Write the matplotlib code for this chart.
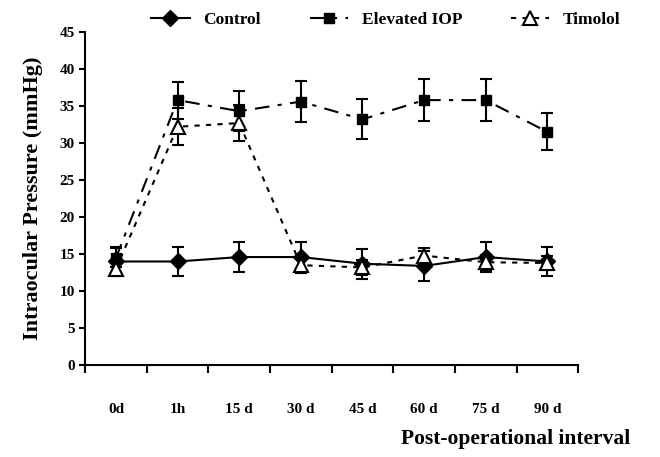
import matplotlib
matplotlib.use("Agg")
import matplotlib.pyplot as plt
from matplotlib.lines import Line2D
import numpy as np

plt.rcParams['font.family'] = ['Liberation Serif', 'DejaVu Serif']
plt.rcParams['font.weight'] = 'bold'

# ── Data ────────────────────────────────────────────
intervals = ["0d", "1h", "15 d", "30 d", "45 d", "60 d", "75 d", "90 d"]

control     = [14.0, 14.0, 14.6, 14.6, 13.7, 13.4, 14.6, 14.0]
control_err = [2.0, 2.0, 2.0, 2.0, 2.0, 2.0, 2.0, 2.0]

elevated     = [14.5, 35.8, 34.3, 35.6, 33.2, 35.8, 35.8, 31.5]
elevated_err = [1.3, 2.5, 2.7, 2.8, 2.7, 2.8, 2.8, 2.5]

timolol     = [13.0, 32.2, 32.7, 13.5, 13.2, 14.8, 13.9, 13.8]
timolol_err = [1.0, 2.5, 2.4, 1.0, 1.0, 1.0, 1.0, 1.0]

fig = plt.figure(figsize=(6.6, 4.57), dpi=100)
ax = fig.add_axes([0.129, 0.201, 0.747, 0.729])

x = np.arange(len(intervals))
ebkw = dict(ecolor="black", elinewidth=1.5, capsize=4, capthick=1.5)

styles = {
    "Control":      dict(linestyle="-", marker="D", markersize=8, mfc="black", mec="black"),
    "Elevated IOP": dict(linestyle=(0, (7, 4, 2, 4)), marker="s", markersize=7,
                         mfc="black", mec="black"),
    "Timolol":      dict(linestyle=(0, (2.5, 3)), marker="^", markersize=10,
                         mfc="white", mec="black", mew=1.5),
}

ax.errorbar(x, control, yerr=control_err, color="black", lw=1.5,
            zorder=3, **styles["Control"], **ebkw)
ax.errorbar(x, elevated, yerr=elevated_err, color="black", lw=1.5,
            zorder=4, **styles["Elevated IOP"], **ebkw)
ax.errorbar(x, timolol, yerr=timolol_err, color="black", lw=1.5,
            zorder=5, **styles["Timolol"], **ebkw)

ax.set_xlim(-0.5, len(intervals) - 0.5)
ax.set_ylim(0, 45)
ax.set_yticks(range(0, 46, 5))
ax.tick_params(axis="y", labelsize=11, length=4, width=1.5, direction="out")

ax.set_xticks(np.arange(-0.5, len(intervals), 1.0))
ax.set_xticklabels([])
ax.tick_params(axis="x", which="major", length=6, width=1.5, direction="out")
ax.set_xticks(x, minor=True)
ax.set_xticklabels(intervals, minor=True, fontsize=11, fontweight="bold")
ax.tick_params(axis="x", which="minor", length=0, pad=27)

for s in ["top", "right"]:
    ax.spines[s].set_visible(False)
for s in ["left", "bottom"]:
    ax.spines[s].set_linewidth(1.5)

ax.set_ylabel("Intraocular Pressure (mmHg)", fontsize=16, fontweight="bold", labelpad=12)
fig.text(0.782, 0.04, "Post-operational interval", fontsize=15.5,
         fontweight="bold", ha="center", va="center")

handles = [Line2D([], [], color="black", lw=1.5, **styles[k]) for k in styles]
ax.legend(handles, list(styles), loc="lower center", bbox_to_anchor=(0.61, 0.985),
          ncol=3, frameon=False, fontsize=12.5, handlelength=2.2,
          columnspacing=2.8, borderaxespad=0.1)

plt.savefig("out.png", dpi=100)
plt.close()
